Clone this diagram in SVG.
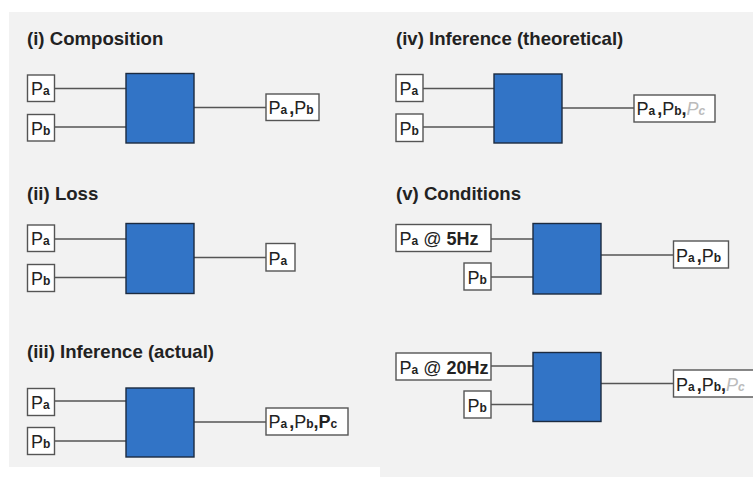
<svg xmlns="http://www.w3.org/2000/svg" width="753" height="477" viewBox="0 0 753 477">
<style>
.bg{fill:#f2f2f2}
.title{font-family:"Liberation Sans",Arial,sans-serif;font-weight:bold;font-size:18.6px;fill:#222}
.lbl{fill:#fff;stroke:#555;stroke-width:1.4}
.blk{fill:#3274c6;stroke:#1c2b40;stroke-width:1.4}
.t{font-family:"Liberation Sans",Arial,sans-serif;font-size:18px;fill:#222}
.s{font-size:12px;font-weight:bold}
.b{font-weight:bold}
.g{fill:#bbb;font-style:italic}
.conn line{stroke:#555;stroke-width:1.5}
</style>
<rect class="bg" x="9" y="12" width="744" height="455"/>
<rect class="bg" x="380" y="460" width="373" height="17"/>

<text class="title" x="27" y="45">(i) Composition</text>
<text class="title" x="27" y="200">(ii) Loss</text>
<text class="title" x="27" y="358">(iii) Inference (actual)</text>
<text class="title" x="396" y="45">(iv) Inference (theoretical)</text>
<text class="title" x="396" y="200">(v) Conditions</text>

<g class="conn">
<line x1="55" y1="88.5" x2="126" y2="88.5"/>
<line x1="55" y1="127" x2="126" y2="127"/>
<line x1="194" y1="107.5" x2="266" y2="107.5"/>
<line x1="55" y1="239" x2="126" y2="239"/>
<line x1="55" y1="277.5" x2="126" y2="277.5"/>
<line x1="194" y1="257.5" x2="266" y2="257.5"/>
<line x1="55" y1="401" x2="126" y2="401"/>
<line x1="55" y1="441" x2="126" y2="441"/>
<line x1="194" y1="422" x2="266" y2="422"/>
<line x1="423" y1="88.5" x2="494" y2="88.5"/>
<line x1="423" y1="127" x2="494" y2="127"/>
<line x1="562" y1="108" x2="634" y2="108"/>
<line x1="491" y1="239" x2="533" y2="239"/>
<line x1="491" y1="277" x2="533" y2="277"/>
<line x1="601" y1="255" x2="673.5" y2="255"/>
<line x1="491" y1="366" x2="533" y2="366"/>
<line x1="491" y1="404.5" x2="533" y2="404.5"/>
<line x1="601" y1="383.5" x2="673.5" y2="383.5"/>
</g>

<g id="i-pa"><rect class="lbl" x="27.5" y="75" width="27" height="26.5"/><text class="t" x="31" y="95">P<tspan class="s">a</tspan></text></g>
<g id="i-pb"><rect class="lbl" x="27.5" y="114.5" width="27" height="26.5"/><text class="t" x="31" y="134.5">P<tspan class="s">b</tspan></text></g>
<g id="i-box"><rect class="blk" x="126" y="73.5" width="68" height="69.5"/></g>
<g id="i-out"><rect class="lbl" x="266" y="94" width="53" height="26.5"/><text class="t" x="268.5" y="114">P<tspan class="s">a</tspan><tspan class="b" dx="2">,</tspan>P<tspan class="s">b</tspan></text></g>

<g id="ii-pa"><rect class="lbl" x="27.5" y="225" width="27" height="26.5"/><text class="t" x="31" y="245">P<tspan class="s">a</tspan></text></g>
<g id="ii-pb"><rect class="lbl" x="27.5" y="264.5" width="27" height="27"/><text class="t" x="31" y="285">P<tspan class="s">b</tspan></text></g>
<g id="ii-box"><rect class="blk" x="126" y="223.5" width="68" height="70"/></g>
<g id="ii-out"><rect class="lbl" x="266" y="243.5" width="29" height="27.5"/><text class="t" x="268.5" y="264.5">P<tspan class="s">a</tspan></text></g>

<g id="iii-pa"><rect class="lbl" x="27.5" y="388.5" width="27" height="27"/><text class="t" x="31" y="408.5">P<tspan class="s">a</tspan></text></g>
<g id="iii-pb"><rect class="lbl" x="27.5" y="427.5" width="27" height="27"/><text class="t" x="31" y="448">P<tspan class="s">b</tspan></text></g>
<g id="iii-box"><rect class="blk" x="126" y="388" width="68" height="69"/></g>
<g id="iii-out"><rect class="lbl" x="266" y="408" width="82" height="27"/><text class="t" x="268.5" y="428">P<tspan class="s">a</tspan><tspan class="b" dx="2">,</tspan>P<tspan class="s">b</tspan><tspan class="b">,P</tspan><tspan class="s">c</tspan></text></g>

<g id="iv-pa"><rect class="lbl" x="396" y="74.5" width="27" height="27"/><text class="t" x="399.5" y="95">P<tspan class="s">a</tspan></text></g>
<g id="iv-pb"><rect class="lbl" x="396" y="114" width="27" height="27.5"/><text class="t" x="399.5" y="134.5">P<tspan class="s">b</tspan></text></g>
<g id="iv-box"><rect class="blk" x="494" y="74" width="68" height="69"/></g>
<g id="iv-out"><rect class="lbl" x="634" y="95" width="81" height="27"/><text class="t" x="636.5" y="115">P<tspan class="s">a</tspan><tspan class="b" dx="2">,</tspan>P<tspan class="s">b</tspan><tspan class="b">,</tspan><tspan class="g">P<tspan class="s">c</tspan></tspan></text></g>

<g id="v1-pa"><rect class="lbl" x="396" y="224.5" width="95" height="27"/><text class="t" x="399.5" y="245">P<tspan class="s">a</tspan> @ <tspan class="b">5Hz</tspan></text></g>
<g id="v1-pb"><rect class="lbl" x="464" y="263" width="27" height="27"/><text class="t" x="467.5" y="283.5">P<tspan class="s">b</tspan></text></g>
<g id="v1-box"><rect class="blk" x="533" y="223.5" width="68" height="70.5"/></g>
<g id="v1-out"><rect class="lbl" x="673.5" y="241" width="55" height="27"/><text class="t" x="676" y="261.5">P<tspan class="s">a</tspan><tspan class="b" dx="2">,</tspan>P<tspan class="s">b</tspan></text></g>

<g id="v2-pa"><rect class="lbl" x="396" y="353" width="95" height="27"/><text class="t" x="399.5" y="373.5">P<tspan class="s">a</tspan> @ <tspan class="b">20Hz</tspan></text></g>
<g id="v2-pb"><rect class="lbl" x="464" y="391" width="27" height="27"/><text class="t" x="467.5" y="411.5">P<tspan class="s">b</tspan></text></g>
<g id="v2-box"><rect class="blk" x="533" y="352.5" width="68" height="69"/></g>
<g id="v2-out"><rect class="lbl" x="673.5" y="370" width="90" height="27"/><text class="t" x="676" y="390.5">P<tspan class="s">a</tspan><tspan class="b" dx="2">,</tspan>P<tspan class="s">b</tspan><tspan class="b">,</tspan><tspan class="g">P<tspan class="s">c</tspan></tspan></text></g>
</svg>
